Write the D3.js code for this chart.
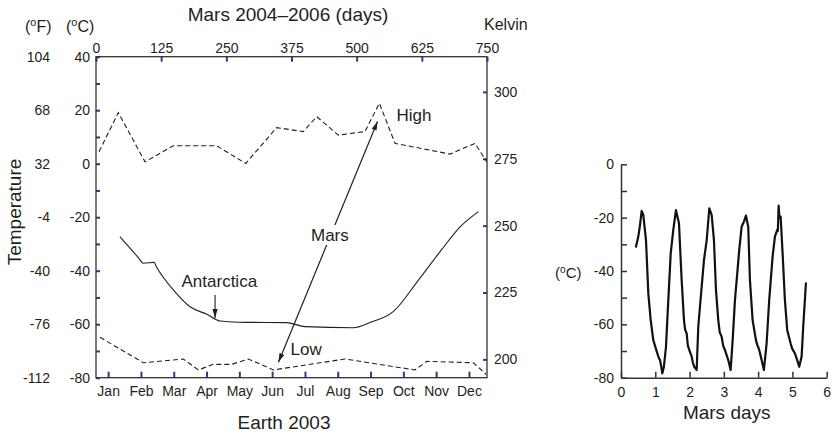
<!DOCTYPE html>
<html><head><meta charset="utf-8">
<script src="https://cdn.jsdelivr.net/npm/d3@7"></script>
<style>
body{margin:0;background:#fff;}
svg{font-family:"Liberation Sans",Arial,sans-serif;}
</style></head>
<body><svg id="c" width="833" height="436"></svg>
<script>
// ---------- data ----------
const months = ["Jan","Feb","Mar","Apr","May","Jun","Jul","Aug","Sep","Oct","Nov","Dec"];
const marsDayTicks = [0,125,250,375,500,625,750];
const celsiusTicks = [40,20,0,-20,-40,-60,-80];
const kelvinTicks = [200,225,250,275,300];
const solTicks = [0,1,2,3,4,5,6];
// Mars High (dashed): [mars day, °C]
const highDays = [5.8,42.8,94,148.3,231.5,287.2,346.6,397.7,423.4,464.8,516,543.5,573.6,679,727,749.5];
const highTemp = [4.5,19.1,0.7,6.7,6.7,0.1,13.5,12.0,17.6,10.7,12.0,22.6,7.6,3.6,7.6,0.7];
// Mars Low (dashed): [mars day, °C]
const lowDays = [7.7,90.7,167.5,196.2,225,260.3,292.2,340.1,477.6,611.9,634.4,723.8,748.2];
const lowTemp = [-64.9,-74.4,-73.0,-77.1,-75.0,-75.0,-73.0,-77.1,-73.0,-77.1,-73.9,-74.4,-78.7];
// Antarctica (solid): [month index, °C]
const antMonth = [0.36,0.92,1.07,1.40,1.48,2.04,2.50,3.01,3.41,4.22,5.44,6.00,7.47,7.98,8.69,9.46,10.12,10.73,11.29];
const antTemp = [-27.3,-35.1,-37.2,-36.9,-38.7,-47.9,-53.5,-56.3,-58.8,-59.3,-59.4,-60.9,-61.3,-59.4,-55.3,-43.5,-32.9,-23.6,-17.9];
// Daily cycle (right chart): [Mars days, °C]
const solDays = [0.437,0.505,0.554,0.603,0.65,0.729,0.797,0.866,0.942,1.06,1.10,1.137,1.17,1.204,1.25,1.312,1.38,1.45,1.525,1.603,1.691,1.769,1.837,1.87,1.915,1.95,1.991,2.061,2.10,2.137,2.207,2.254,2.303,2.42,2.5,2.575,2.645,2.711,2.77,2.837,2.88,2.935,2.98,3.032,3.128,3.198,3.257,3.324,3.391,3.449,3.519,3.55,3.586,3.644,3.711,3.761,3.839,3.936,3.97,4.032,4.102,4.169,4.247,4.323,4.422,4.49,4.557,4.575,4.598,4.62,4.656,4.714,4.781,4.848,4.947,4.99,5.073,5.14,5.198,5.268,5.315,5.394];
const solTemp = [-30.9,-27.1,-22.8,-17.5,-19,-28.4,-48.4,-58.4,-65.9,-70.9,-72.5,-73.4,-75.5,-78.4,-76,-68.4,-50.9,-33.4,-24.6,-17.2,-22.1,-43.4,-58.4,-62,-63.4,-68,-69.6,-72.1,-74.5,-75.9,-77.1,-60.9,-53.4,-35.9,-28.4,-16.5,-19,-28.4,-47.1,-58.4,-63,-64.6,-68,-69.6,-73.4,-77.1,-65.9,-50.9,-40.9,-32.1,-23.4,-22.5,-21.5,-19.2,-23.4,-43.4,-58.4,-65.9,-67.5,-69.6,-73.4,-77.1,-67.1,-50.9,-34.6,-27.1,-24.6,-25,-15.5,-20,-19.6,-33.4,-50.9,-62.1,-67.1,-69,-70.9,-73.4,-75.9,-72.1,-60.9,-44.6];

// ---------- setup ----------
const svg = d3.select("#c");
const ink = "#231f20", blue = "#2b3990";
const L = 96, R = 487, T = 56.7, B = 377.7;

const yC = d3.scaleLinear().domain([-80,40]).range([B,T]);
const yK = d3.scaleLinear().domain([-80+273.15,40+273.15]).range([B,T]);
const xDay = d3.scaleLinear().domain([0,750]).range([L,R]);
const xMon = d3.scaleLinear().domain([-0.37,11.55]).range([L,R]);

function styleAxis(g, tickColor, fs){
  g.select(".domain").remove();
  g.selectAll(".tick line").attr("stroke",tickColor).attr("stroke-width",2);
  g.selectAll(".tick text").attr("fill",ink).attr("font-size",fs).attr("font-family","Liberation Sans, Arial, sans-serif");
}

// left Celsius axis
svg.append("g").attr("transform",`translate(${L},0)`)
  .call(d3.axisLeft(yC).tickValues(d3.range(-80,41,10)).tickSize(-4).tickPadding(6)
    .tickFormat(d => d % 20 === 0 ? d : ""))
  .call(g => styleAxis(g, blue, 14));
// Fahrenheit labels
svg.append("g").attr("transform",`translate(${L},0)`)
  .call(d3.axisLeft(yC).tickValues(celsiusTicks).tickSize(0).tickPadding(46)
    .tickFormat(d => Math.round(d*9/5+32)))
  .call(g => styleAxis(g, "none", 14));
// top Mars days axis
svg.append("g").attr("transform",`translate(0,${T})`)
  .call(d3.axisTop(xDay).tickValues(marsDayTicks).tickSize(-5).tickPadding(4))
  .call(g => styleAxis(g, blue, 14));
// right Kelvin axis
svg.append("g").attr("transform",`translate(${R},0)`)
  .call(d3.axisRight(yK).tickValues(kelvinTicks).tickSize(-4).tickPadding(7))
  .call(g => styleAxis(g, blue, 14));
// bottom month axis
svg.append("g").attr("transform",`translate(0,${B})`)
  .call(d3.axisBottom(xMon).tickValues(d3.range(0,12)).tickSize(-6).tickPadding(8)
    .tickFormat(i => months[i]))
  .call(g => styleAxis(g, blue, 14));

// frame
svg.append("rect").attr("x",L).attr("y",T).attr("width",R-L).attr("height",B-T)
  .attr("fill","none").attr("stroke","#333").attr("stroke-width",1.3);

// lines
const lineDay = d3.line().x(d => xDay(d[0])).y(d => yC(d[1]));
const lineMon = d3.line().x(d => xMon(d[0])).y(d => yC(d[1])).curve(d3.curveMonotoneX);
svg.append("path").datum(d3.zip(highDays, highTemp)).attr("d", lineDay)
  .attr("fill","none").attr("stroke",ink).attr("stroke-width",1.1).attr("stroke-dasharray","5,3");
svg.append("path").datum(d3.zip(lowDays, lowTemp)).attr("d", lineDay)
  .attr("fill","none").attr("stroke",ink).attr("stroke-width",1.1).attr("stroke-dasharray","5,3");
svg.append("path").datum(d3.zip(antMonth, antTemp)).attr("d", lineMon)
  .attr("fill","none").attr("stroke",ink).attr("stroke-width",1.1);

// arrow marker
svg.append("defs").append("marker").attr("id","ah")
  .attr("viewBox","0 -3 9 6").attr("refX",9).attr("refY",0)
  .attr("markerWidth",9).attr("markerHeight",6).attr("markerUnits","userSpaceOnUse")
  .attr("orient","auto-start-reverse")
  .append("path").attr("d","M0,-2.6L9,0L0,2.6Z").attr("fill",ink);

// Antarctica arrow
svg.append("line").attr("x1",xMon(3.26)).attr("y1",295).attr("x2",xMon(3.26)).attr("y2",318)
  .attr("stroke",ink).attr("stroke-width",1.1).attr("marker-end","url(#ah)");
// Mars arrow (between Low and High)
svg.append("line").attr("x1",xDay(350)).attr("y1",yC(-74.2)).attr("x2",xDay(540)).attr("y2",yC(15.8))
  .attr("stroke",ink).attr("stroke-width",1.2)
  .attr("marker-start","url(#ah)").attr("marker-end","url(#ah)");

// annotations
function label(x,y,txt,fs,anchor){
  return svg.append("text").attr("x",x).attr("y",y).attr("font-size",fs).attr("fill",ink)
    .attr("text-anchor",anchor||"start").text(txt);
}
svg.append("rect").attr("x",309).attr("y",225).attr("width",41).attr("height",20).attr("fill","#fff");
label(311,241,"Mars",17);
label(396.5,121,"High",17);
label(181.5,286.5,"Antarctica",17);
label(290.5,355,"Low",17);

// titles
label(288,21,"Mars 2004\u20132006 (days)",19,"middle");
label(484,30,"Kelvin",16);
label(284,429,"Earth 2003",19,"middle");
svg.append("text").attr("transform","translate(21,212) rotate(-90)").attr("text-anchor","middle")
  .attr("font-size",19).attr("fill",ink).text("Temperature");
function degLabel(x,y,unit,fs,anchor){
  const t = svg.append("text").attr("x",x).attr("y",y).attr("font-size",fs).attr("fill",ink)
    .attr("text-anchor",anchor||"start");
  t.append("tspan").text("(");
  t.append("tspan").attr("font-size",fs*0.68).attr("baseline-shift","super").text("o");
  t.append("tspan").text(unit + ")");
}
degLabel(25,31.5,"F",16);
degLabel(66,31.5,"C",16);

// ---------- right chart ----------
const RL = 621, RR = 826.7, RT = 164.3, RB = 377.7;
const xR = d3.scaleLinear().domain([0,6]).range([RL,RR]);
const yR = d3.scaleLinear().domain([-80,0]).range([RB,RT]);

function styleAxis2(g){
  g.select(".domain").attr("stroke","#333").attr("stroke-width",1.5);
  g.selectAll(".tick line").attr("stroke","#333").attr("stroke-width",1.5);
  g.selectAll(".tick text").attr("fill",ink).attr("font-size",14).attr("font-family","Liberation Sans, Arial, sans-serif");
}
svg.append("g").attr("transform",`translate(${RL},0)`)
  .call(d3.axisLeft(yR).tickValues(d3.range(-80,1,10)).tickSize(-6).tickSizeOuter(0).tickPadding(7)
    .tickFormat(d => d % 20 === 0 ? d : ""))
  .call(styleAxis2);
svg.append("g").attr("transform",`translate(0,${RB})`)
  .call(d3.axisBottom(xR).tickValues(solTicks).tickSize(-6).tickSizeOuter(0).tickPadding(9)
    .tickFormat(d3.format("d")))
  .call(styleAxis2);

svg.append("path").datum(d3.zip(solDays, solTemp))
  .attr("d", d3.line().x(d => xR(d[0])).y(d => yR(d[1])))
  .attr("fill","none").attr("stroke","#111").attr("stroke-width",2.2)
  .attr("stroke-linejoin","round").attr("stroke-linecap","round");

label(726.7,419,"Mars days",19,"middle");
degLabel(555,278,"C",15);
</script></body></html>
